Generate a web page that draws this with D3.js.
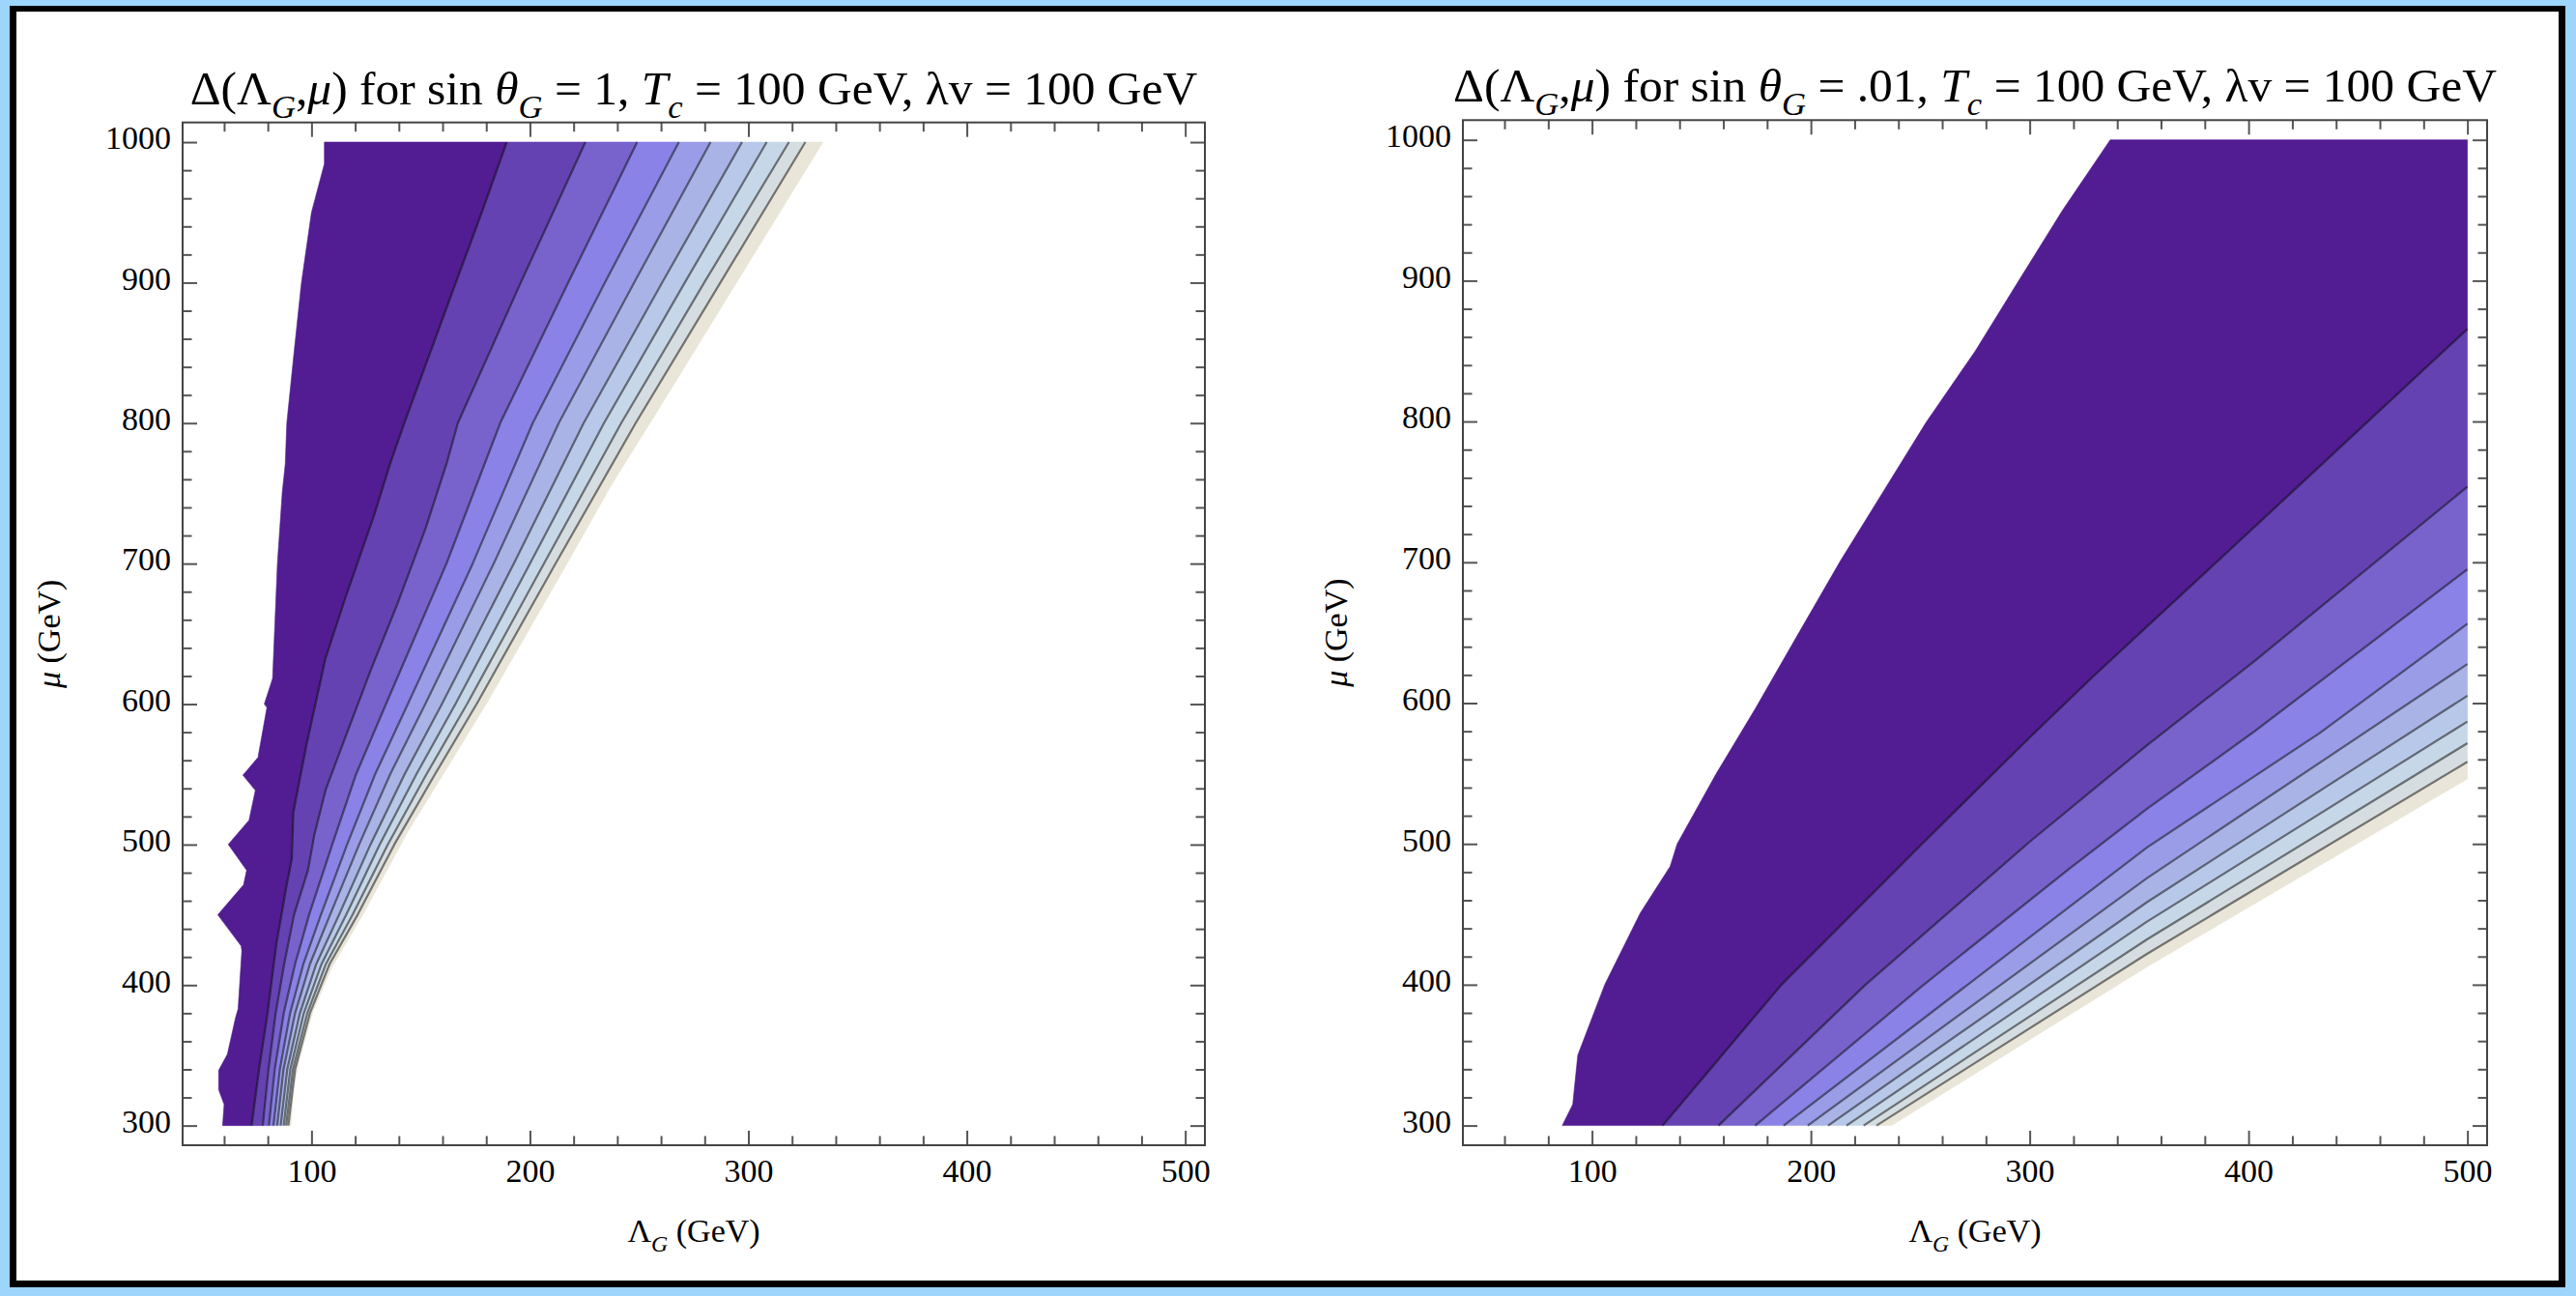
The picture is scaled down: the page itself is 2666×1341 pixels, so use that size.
<!DOCTYPE html>
<html lang="en">
<head>
<meta charset="UTF-8">
<title>Delta(Lambda_G, mu) contour plots</title>
<script src="https://d3js.org/d3.v7.min.js"></script>
<style>
  body { margin: 0; background: #9dd5fd; }
  svg { display: block; font-family: "Liberation Serif", "Times New Roman", serif; }
  .axis text { font-size: 34px; fill: #000; font-family: "Liberation Serif", "Times New Roman", serif; }
  .axis line { stroke: #555; stroke-width: 2; }
  .axis path { display: none; }
</style>
</head>
<body>
<svg id="chart"></svg>
<script>
// tick values
const xMajor = [100, 200, 300, 400, 500];
const yMajor = [300, 400, 500, 600, 700, 800, 900, 1000];
const xMinor = [60, 80, 120, 140, 160, 180, 220, 240, 260, 280, 320, 340, 360, 380, 420, 440, 460, 480];
const yMinor = [320, 340, 360, 380, 420, 440, 460, 480, 520, 540, 560, 580, 620, 640, 660, 680, 720, 740, 760, 780, 820, 840, 860, 880, 920, 940, 960, 980];

// shading of the ten bands, lowest Δ first
const bandColors = ["#521c92", "#6542b2", "#7862cc", "#8a82e6", "#9a9ce8",
                    "#a9b3e6", "#b8c8e8", "#c6d7e8", "#d6dde0", "#e9e5d8"];

// ---- sin θG = 1 : band boundaries, [ΛG, μ] from μ = 300 upward ----
const edgeLowA = [[59.3,300],[60,315],[57.5,325.5],[57.5,339.3],[61.5,350.8],[65.2,376.6],[66.4,383],[68.1,424.3],[67.8,427.8],[57.1,450],[68.9,471.4],[70.3,481.7],[61.9,500.1],[71.4,517.3],[74.3,538.6],[68.6,549.4],[75.5,562],[79.6,597.6],[78.4,600],[82.2,618.3],[84.4,700],[86.6,750.4],[88,771],[88.7,800],[92,850],[95.4,900],[100,950],[105.9,984.6],[105.9,1000]];
const contoursA = [
  [[72.6,300],[76,340],[79.9,380],[84,430],[88.5,470],[91,490],[91.7,523],[97.7,571],[106.5,633],[115.4,675],[128.6,734],[136,771],[142.5,800],[166.1,900],[178,950],[189.4,1000]],
  [[77.7,300],[80.3,340],[83.6,380],[87.5,415],[92,450],[98.4,482],[101.3,507],[106.5,539],[115.4,576],[127.1,624],[139,670],[152.2,725],[161.8,771],[167,800],[195.8,900],[225.4,1000]],
  [[80.5,300],[83.2,340],[87.3,380],[92.5,415],[98.9,450],[109.5,500],[120.4,550],[134.1,600],[161.8,700],[186.4,800],[217.5,900],[249.1,1000]],
  [[82.6,300],[85.5,340],[90.2,380],[96.3,415],[104.3,450],[116.3,500],[129.1,550],[144.1,600],[173.8,700],[201.3,800],[234.3,900],[268.2,1000]],
  [[84.3,300],[87.2,340],[92.5,380],[99.3,415],[108.5,450],[121.8,500],[136,550],[152.1,600],[183.4,700],[213.2,800],[247.7,900],[282.7,1000]],
  [[85.9,300],[88.9,340],[94.7,380],[102.2,415],[112.6,450],[127,500],[142.6,550],[159.7,600],[192.6,700],[224.6,800],[260.5,900],[297.1,1000]],
  [[87.3,300],[90.3,340],[96.5,380],[104.6,415],[115.9,450],[131.2,500],[148,550],[165.9,600],[200,700],[233.9,800],[270.9,900],[308.4,1000]],
  [[88.4,300],[91.5,340],[98.1,380],[106.6,415],[118.8,450],[134.9,500],[152.6,550],[171.2,600],[206.4,700],[241.8,800],[279.8,900],[318.6,1000]],
  [[89.4,300],[92.5,340],[99.3,380],[108.3,415],[121.1,450],[137.9,500],[156.5,550],[175.6,600],[211.7,700],[248.4,800],[287.2,900],[326.1,1000]]
];
const edgeHighA = [[90.6,300],[91.7,325.5],[94.7,348.5],[100.6,380.6],[109.4,412.8],[124.2,452],[144.1,509.2],[160.3,550],[180,600],[217,700],[237.3,756],[255,800],[294.6,900],[334.2,1000]];

// ---- sin θG = .01 ----
const edgeLowB = [[86.4,300],[91.2,315],[93.5,350],[105.8,400],[122.1,451],[135.7,484],[138.9,500],[156.8,550],[174.6,596],[193.8,648],[213.5,701],[233,750],[252.5,799],[275.1,850],[294.6,899],[315,950],[336.8,1000]];
const contoursB = [
  [[132.3,300],[186.6,400],[250.8,500],[299.6,575],[329.1,619],[388.1,704],[500,865.6]],
  [[157.8,300],[225,400],[299.6,501],[353.6,570],[402.8,630],[500,753.7]],
  [[174.6,300],[250,398],[317.4,481.5],[353.6,525],[402.8,580],[500,695]],
  [[187.6,300],[353.6,497.5],[432.3,578.5],[500,656.3]],
  [[198.6,300],[353.6,475.7],[500,627.7]],
  [[207.9,300],[353.6,458.6],[500,605.2]],
  [[216.3,300],[353.6,444.8],[500,586.9]],
  [[224.1,300],[353.6,432.2],[500,571.5]],
  [[230,300],[353.6,421.9],[500,558.3]]
];
const edgeHighB = [[236.9,300],[353.6,412.7],[500,546.1]];

// titles as [text, style] pieces
const titleA = [["Δ(Λ"],["G","sub"],[","],["μ","it"],[") for sin "],["θ","it"],["G","sub"],[" = 1, "],["T","it"],["c","sub"],[" = 100 GeV, λv = 100 GeV"]];
const titleB = [["Δ(Λ"],["G","sub"],[","],["μ","it"],[") for sin "],["θ","it"],["G","sub"],[" = .01, "],["T","it"],["c","sub"],[" = 100 GeV, λv = 100 GeV"]];
const xLabel = [["Λ"],["G","sub"],[" (GeV)"]];
const yLabel = [["μ","it"],[" (GeV)"]];

const W = 2666, H = 1341;
const svg = d3.select("#chart").attr("width", W).attr("height", H);

// page border
svg.append("rect").attr("width", W).attr("height", H).attr("fill", "#9dd5fd");
svg.append("rect").attr("x", 10).attr("y", 6).attr("width", 2645).attr("height", 1326).attr("fill", "#000");
svg.append("rect").attr("x", 17).attr("y", 12).attr("width", 2631).attr("height", 1313).attr("fill", "#fff");

function richText(sel, segs, size) {
    const t = sel.append("text").attr("font-size", size).style("white-space", "pre");
    let shift = 0;
    segs.forEach(([s, kind]) => {
        const sub = kind === "sub";
        const target = sub ? size * 0.28 : 0;
        t.append("tspan")
            .attr("dy", target - shift)
            .attr("font-size", sub ? size * 0.7 : size)
            .attr("font-style", (sub || kind === "it") ? "italic" : null)
            .text(s);
        shift = target;
    });
    return t;
}

const panels = [
    { title: titleA, low: edgeLowA, lines: contoursA, high: edgeHighA, x0: 189, x1: 1247, y0: 126.7, y1: 1185, labelGap: 127 },
    { title: titleB, low: edgeLowB, lines: contoursB, high: edgeHighB, x0: 1514, x1: 2574, y0: 124.3, y1: 1185, labelGap: 120 }
];

panels.forEach(p => {
    const x = d3.scaleLinear().domain([41, 509]).range([p.x0, p.x1]);
    const y = d3.scaleLinear().domain([286, 1014]).range([p.y1, p.y0]);
    const line = d3.line().x(d => x(d[0])).y(d => y(d[1]));

    const g = svg.append("g");
    const bounds = [p.low, ...p.lines, p.high];

    // each band: lower boundary up, round the top-right corner if needed, upper boundary back down
    for (let i = 0; i < bounds.length - 1; i++) {
        const a = bounds[i], b = bounds[i + 1];
        const ea = a[a.length - 1], eb = b[b.length - 1];
        let pts = a.slice();
        if (ea[1] >= 1000 && eb[1] < 1000) pts.push([500, 1000]);
        pts = pts.concat(b.slice().reverse());
        g.append("path")
            .attr("d", line(pts) + "Z")
            .attr("fill", bandColors[i])
            .attr("stroke", bandColors[i])
            .attr("stroke-width", 0.6);
    }

    // contour lines
    g.selectAll(".contour")
        .data(p.lines)
        .enter().append("path")
        .attr("class", "contour")
        .attr("d", line)
        .attr("fill", "none")
        .attr("stroke", "rgba(0,0,0,0.5)")
        .attr("stroke-width", 2.2)
        .attr("stroke-linejoin", "round");

    // axes: major + minor ticks on all four sides, pointing inward
    const axes = [
        [d3.axisBottom, `translate(0,${p.y1})`, x, true],
        [d3.axisTop, `translate(0,${p.y0})`, x, false],
        [d3.axisLeft, `translate(${p.x0},0)`, y, true],
        [d3.axisRight, `translate(${p.x1},0)`, y, false]
    ];
    axes.forEach(([ax, tr, sc, labels]) => {
        const horiz = sc === x;
        const major = ax(sc).tickValues(horiz ? xMajor : yMajor).tickSizeInner(-15).tickSizeOuter(0)
            .tickPadding(horiz ? 14 : 12).tickFormat(labels ? d3.format("d") : "");
        const minor = ax(sc).tickValues(horiz ? xMinor : yMinor).tickSizeInner(-9.5).tickSizeOuter(0).tickFormat("");
        const gm = svg.append("g").attr("class", "axis").attr("transform", tr).call(major);
        svg.append("g").attr("class", "axis").attr("transform", tr).call(minor);
        gm.selectAll("text").attr("font-size", null);
        if (!horiz) gm.selectAll("text").attr("dy", "0.2em");
    });

    // frame
    svg.append("rect")
        .attr("x", p.x0).attr("y", p.y0)
        .attr("width", p.x1 - p.x0).attr("height", p.y1 - p.y0)
        .attr("fill", "none").attr("stroke", "#444").attr("stroke-width", 2);

    // title and axis labels
    const cx = (p.x0 + p.x1) / 2;
    richText(svg, p.title, 49.5)
        .attr("x", cx).attr("y", p.y0 - 19).attr("text-anchor", "middle");
    richText(svg, xLabel, 34)
        .attr("x", cx).attr("y", 1285).attr("text-anchor", "middle");
    richText(svg, yLabel, 34)
        .attr("text-anchor", "middle")
        .attr("transform", `translate(${p.x0 - p.labelGap},${(p.y0 + p.y1) / 2}) rotate(-90)`);
});
</script>
</body>
</html>
